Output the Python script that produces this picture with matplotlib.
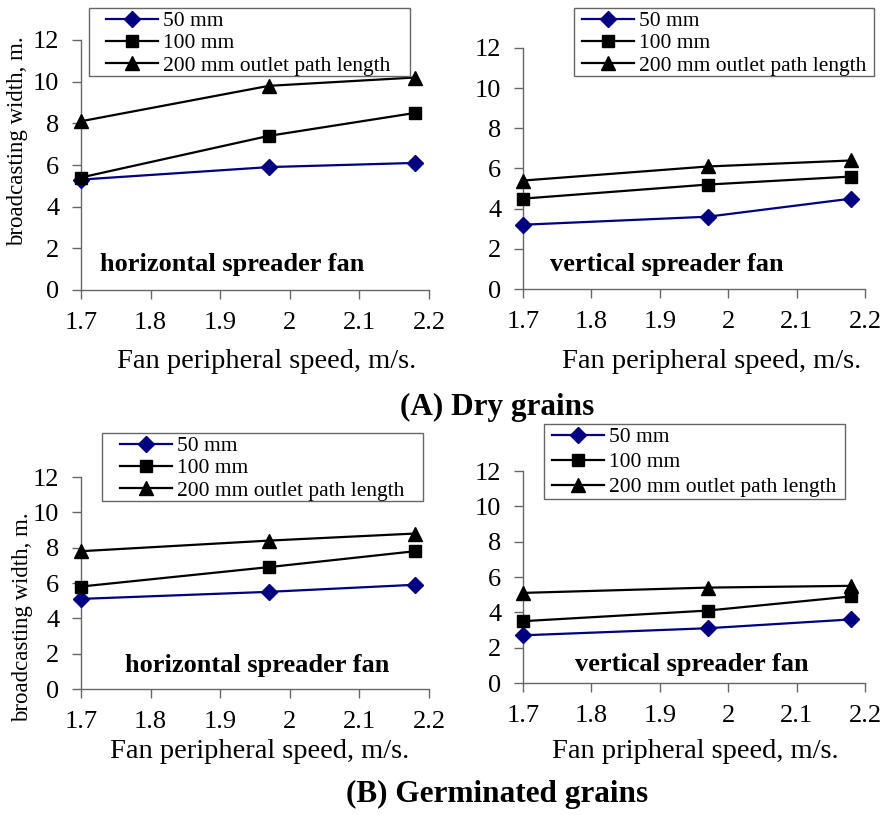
import matplotlib
matplotlib.use("Agg")
import matplotlib.pyplot as plt
from matplotlib.patches import Rectangle

plt.rcParams['font.family'] = ['Liberation Serif', 'DejaVu Serif']

# data
speed = [1.7, 1.97, 2.18]
labels = ['50 mm', '100 mm', '200 mm outlet path length']

dry_horiz = [[5.3, 5.9, 6.1], [5.4, 7.4, 8.5], [8.1, 9.8, 10.2]]
dry_vert = [[3.2, 3.6, 4.5], [4.5, 5.2, 5.6], [5.4, 6.1, 6.4]]
germ_horiz = [[5.1, 5.5, 5.9], [5.8, 6.9, 7.8], [7.8, 8.4, 8.8]]
germ_vert = [[2.7, 3.1, 3.6], [3.5, 4.1, 4.9], [5.1, 5.4, 5.5]]

xticks = [1.7, 1.8, 1.9, 2.0, 2.1, 2.2]
xticklabels = ['1.7', '1.8', '1.9', '2', '2.1', '2.2']
yticks = [0, 2, 4, 6, 8, 10, 12]

styles = [dict(color='#000080', marker='D', ms=8),
          dict(color='black', marker='s', ms=9),
          dict(color='black', marker='^', ms=10)]

AXC = '#666666'
W, H = 886, 815
fig = plt.figure(figsize=(W / 100, H / 100), dpi=100)


def px_axes(left, right, top, bottom):
    return fig.add_axes([left / W, 1 - bottom / H, (right - left) / W, (bottom - top) / H])


# panel layout in pixels; legbox = (left, right, top, bottom), legx = where the handle lines start
panels = [
    dict(box=(81, 429, 40, 290), data=dry_horiz, text='horizontal spreader fan', tpos=(0.055, 0.1),
         legbox=(89, 410, 8, 76), legx=106, lsp=0.1,
         xl=(267, 362), xlabel='Fan peripheral speed, m/s.', yl=(18, 141)),
    dict(box=(523, 865, 48, 289), data=dry_vert, text='vertical spreader fan', tpos=(0.08, 0.1),
         legbox=(574, 874, 8, 76), legx=582, lsp=0.1,
         xl=(712, 362), xlabel='Fan peripheral speed, m/s.', yl=None),
    dict(box=(81, 429, 477, 689), data=germ_horiz, text='horizontal spreader fan', tpos=(0.126, 0.113),
         legbox=(102, 423, 433, 501), legx=120, lsp=0.1,
         xl=(260, 752), xlabel='Fan peripheral speed, m/s.', yl=(23, 617)),
    dict(box=(523, 865, 471, 683), data=germ_vert, text='vertical spreader fan', tpos=(0.152, 0.085),
         legbox=(544, 845, 424, 499), legx=552, lsp=0.23,
         xl=(695, 752), xlabel='Fan pripheral speed, m/s.', yl=None),
]

for p in panels:
    ax = px_axes(*p['box'])
    for vals, lab, st in zip(p['data'], labels, styles):
        ax.plot(speed, vals, label=lab, linewidth=1.6, color=st['color'],
                marker=st['marker'], markersize=st['ms'], markerfacecolor=st['color'],
                markeredgecolor=st['color'], clip_on=False, zorder=3)
    ax.set_xlim(1.7, 2.2)
    ax.set_ylim(0, 12)
    ax.set_xticks(xticks)
    ax.set_xticklabels(xticklabels)
    ax.set_yticks(yticks)
    for s in ['top', 'right']:
        ax.spines[s].set_visible(False)
    for s in ['left', 'bottom']:
        ax.spines[s].set_color(AXC)
        ax.spines[s].set_linewidth(1.0)
    ax.tick_params(direction='out', length=6.5, width=1.0, color=AXC,
                   labelsize=19, pad=9)
    ax.text(p['tpos'][0], p['tpos'][1], p['text'], transform=ax.transAxes,
            fontsize=19, fontweight='bold', ha='left', va='center')
    if p['yl']:
        fig.text(p['yl'][0] / W, 1 - p['yl'][1] / H, 'broadcasting width, m.',
                 fontsize=16.5, rotation=90, ha='center', va='center')
    fig.text(p['xl'][0] / W, 1 - p['xl'][1] / H, p['xlabel'], fontsize=20.5,
             ha='center', va='center')

    # legend box drawn by hand so its padding matches the original
    bl, br, bt, bb = p['legbox']
    ax.add_patch(Rectangle((bl / W, 1 - bb / H), (br - bl) / W, (bb - bt) / H,
                           transform=fig.transFigure, facecolor='white', clip_on=False,
                           edgecolor=AXC, linewidth=1.0, zorder=4))
    leg = ax.legend(loc='upper left', bbox_to_anchor=(p['legx'] / W, 1 - (bt + 3) / H),
                    bbox_transform=fig.transFigure, borderaxespad=0, borderpad=0,
                    fontsize=15.5, handlelength=2.4, handletextpad=0.25,
                    labelspacing=p['lsp'], frameon=False)
    leg.set_zorder(5)

fig.text(497 / W, 1 - 407 / H, '(A) Dry grains', fontsize=22.5, fontweight='bold',
         ha='center', va='center')
fig.text(497 / W, 1 - 794 / H, '(B) Germinated grains', fontsize=22.5, fontweight='bold',
         ha='center', va='center')

fig.savefig('out.png', dpi=100)
